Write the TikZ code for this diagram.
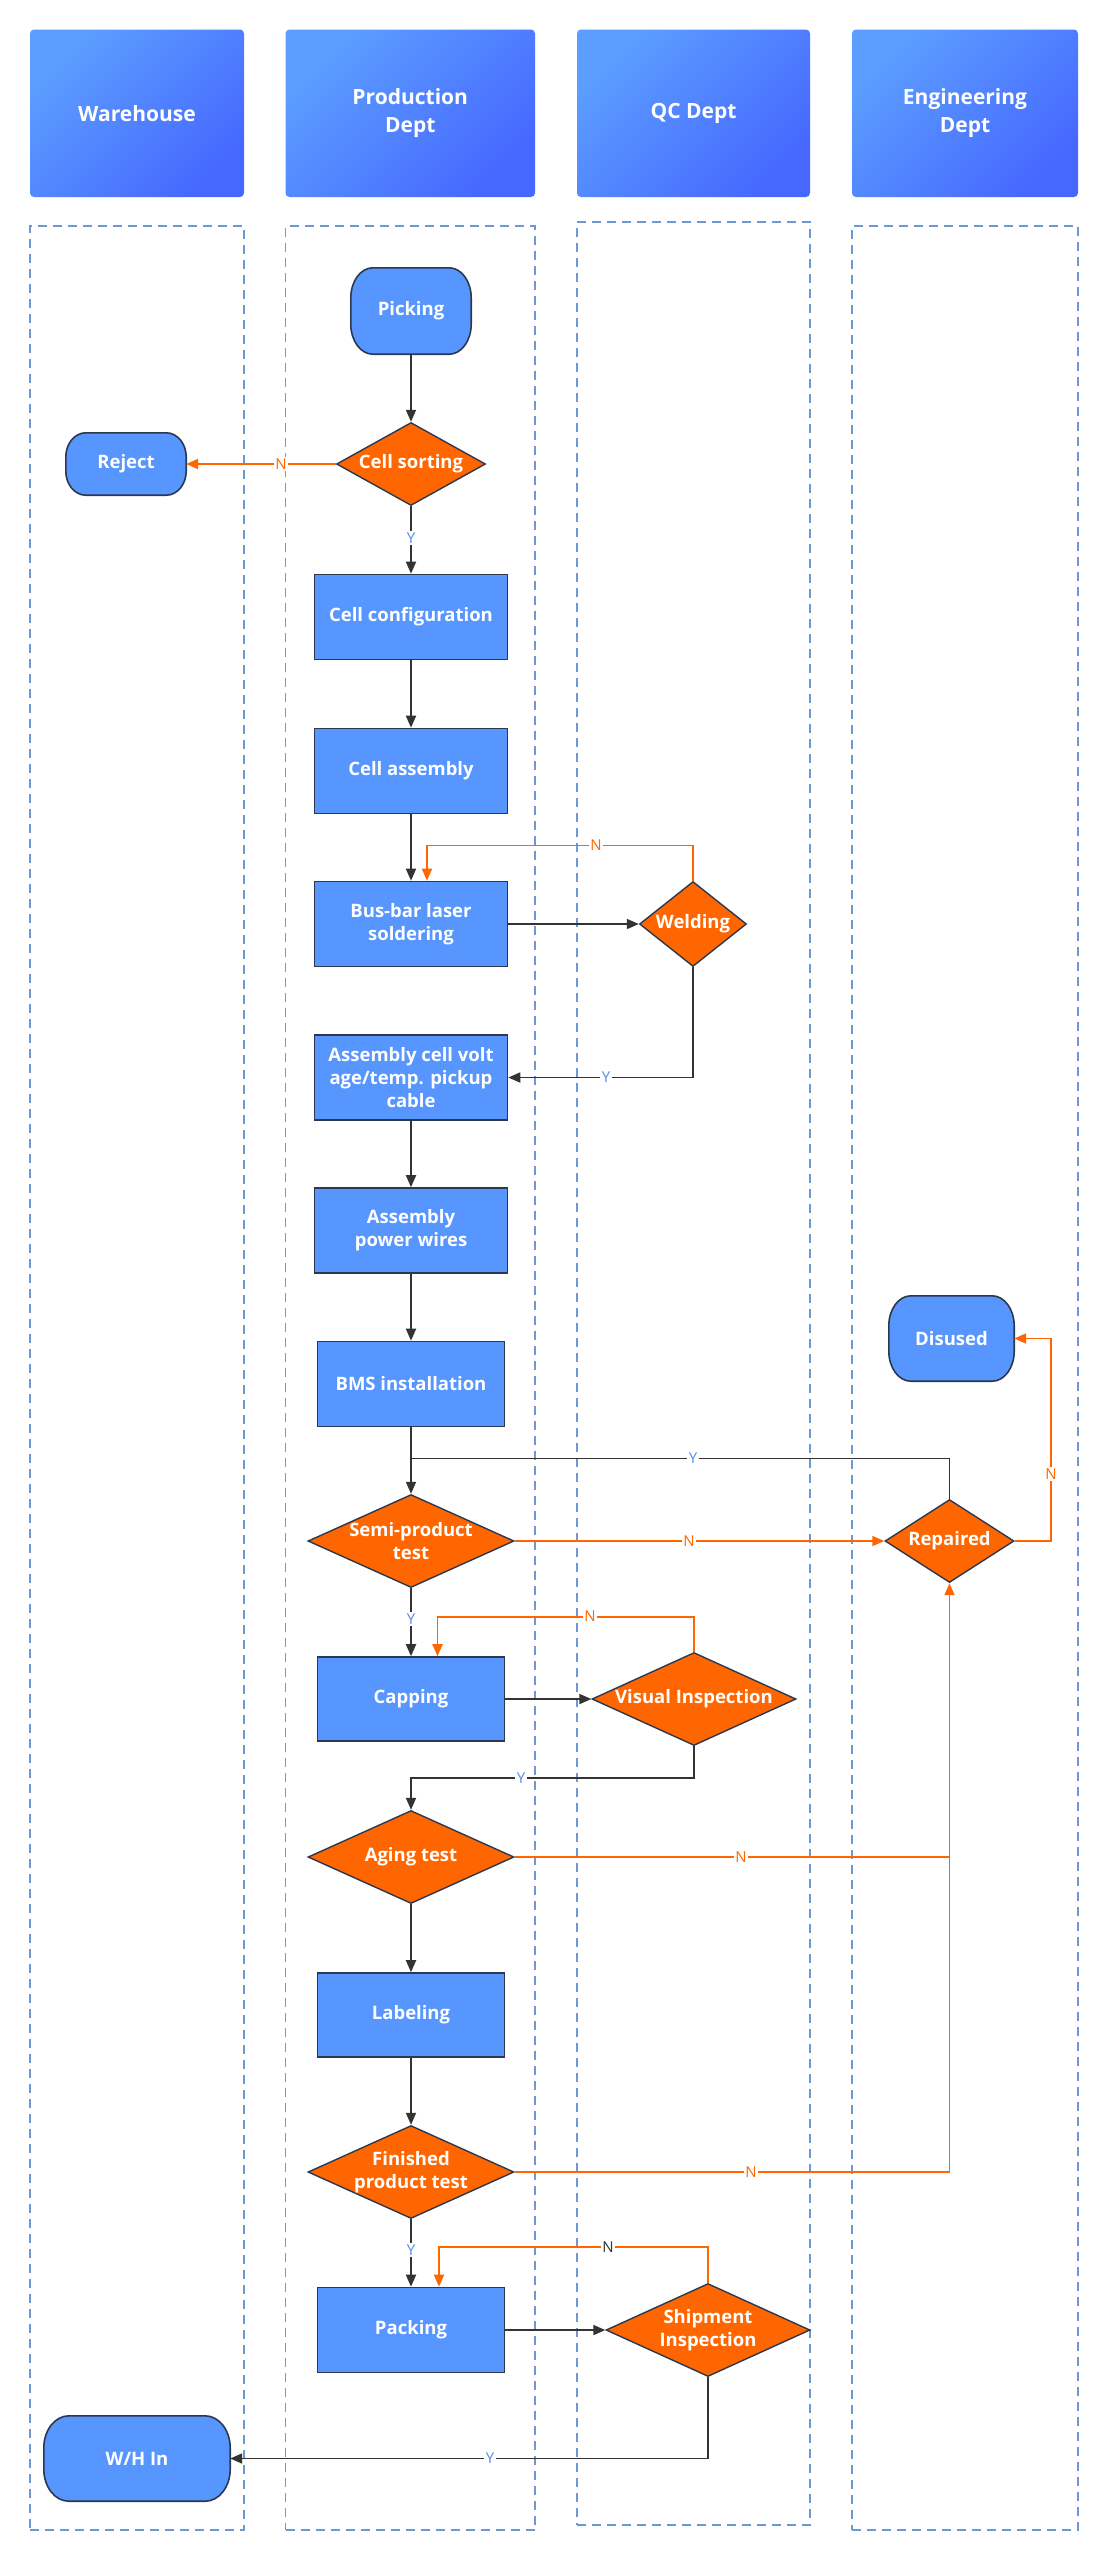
\documentclass[tikz,border=0pt]{standalone}
\usepackage{fontspec}
\setmainfont{Open Sans}
\usetikzlibrary{shapes.geometric,arrows.meta}
\definecolor{nodeblue}{RGB}{87,150,255}
\definecolor{orng}{RGB}{255,102,0}
\definecolor{edgec}{RGB}{51,51,51}
\definecolor{borderc}{RGB}{44,56,80}
\definecolor{lanec}{RGB}{108,152,214}
\definecolor{hdrA}{RGB}{92,158,255}
\definecolor{hdrB}{RGB}{70,104,255}
\definecolor{ylab}{RGB}{88,140,228}
\newcommand{\myNodeFont}{\fontsize{18.5}{23}\selectfont\bfseries}
\newcommand{\myHdrFont}{\fontsize{21}{28}\selectfont\bfseries}
\newcommand{\myLblFont}{\fontsize{15}{18}\selectfont}
% terminal shape with elliptical corners around a named node
\newcommand{\myTerm}[3]{%
  \path[draw=borderc, fill=nodeblue, line width=1.6pt]
    ([xshift=#2pt]#1.north west) -- ([xshift=-#2pt]#1.north east)
    arc[start angle=90, end angle=0, x radius=#2pt, y radius=#3pt]
    -- ([yshift=#3pt]#1.south east)
    arc[start angle=0, end angle=-90, x radius=#2pt, y radius=#3pt]
    -- ([xshift=#2pt]#1.south west)
    arc[start angle=-90, end angle=-180, x radius=#2pt, y radius=#3pt]
    -- ([yshift=-#3pt]#1.north west)
    arc[start angle=180, end angle=90, x radius=#2pt, y radius=#3pt] -- cycle;}
\tikzset{
  hdr/.style={rectangle, rounded corners=4pt, top color=hdrA, bottom color=hdrB, shading angle=45,
    text=white, font=\myHdrFont, align=center, inner sep=0pt, minimum height=167.5pt},
  lanebox/.style={rectangle, draw=lanec, line width=1.5pt, dash pattern=on 9pt off 6pt, inner sep=0pt},
  proc/.style={rectangle, draw=borderc, line width=1.6pt, fill=nodeblue, text=white, font=\myNodeFont,
    align=center, inner sep=0pt, minimum width=193pt, minimum height=85pt},
  procs/.style={proc, minimum width=187pt},
  termbox/.style={rectangle, inner sep=0pt},
  dia/.style={diamond, draw=borderc, line width=1.4pt, fill=orng, inner sep=0pt},
  dtxt/.style={text=white, font=\myNodeFont, align=center, inner sep=0pt},
  tip/.style={-{Triangle[length=12pt,width=10pt]}},
  flow/.style={draw=edgec, line width=1.8pt, tip},
  fline/.style={draw=edgec, line width=1.8pt},
  nflow/.style={draw=orng, line width=1.8pt, tip},
  nline/.style={draw=orng, line width=1.8pt},
  ylbl/.style={fill=white, text=ylab, font=\myLblFont, inner sep=1.5pt},
  nlbl/.style={fill=white, text=orng, font=\myLblFont, inner sep=1.5pt},
  dlbl/.style={fill=white, text=edgec, font=\myLblFont, inner sep=1.5pt},
}
\begin{document}
\begin{tikzpicture}[x=1pt,y=-1pt]
\useasboundingbox (0,0) rectangle (1108,2560);
\fill[white] (0,0) rectangle (1108,2560);
% headers
\node[hdr, minimum width=214pt] (hW) at (137,113.25) {Warehouse};
\node[hdr, minimum width=249.5pt] (hP) at (410.25,113.25) {Production\\Dept};
\node[hdr, minimum width=233pt] (hQ) at (693.5,113.25) {QC Dept};
\node[hdr, minimum width=226pt] (hE) at (965,113.25) {Engineering\\Dept};
% lanes
\node[lanebox, minimum width=214pt, minimum height=2304pt] (lW) at (137,1378) {};
\node[lanebox, minimum width=249.5pt, minimum height=2304pt] (lP) at (410.25,1378) {};
\node[lanebox, minimum width=233pt, minimum height=2303pt] (lQ) at (693.5,1373.5) {};
\node[lanebox, minimum width=226pt, minimum height=2304pt] (lE) at (965,1378) {};
% terminals
\node[termbox, minimum width=120pt, minimum height=86pt] (pick) at (411,311) {};
\myTerm{pick}{22}{30}
\node[dtxt] (pickT) at (pick) {Picking};
\node[termbox, minimum width=120pt, minimum height=62pt] (rej) at (126,464) {};
\myTerm{rej}{20}{24}
\node[dtxt] (rejT) at (rej) {Reject};
\node[termbox, minimum width=125pt, minimum height=85pt] (dis) at (951.5,1338.5) {};
\myTerm{dis}{22}{30}
\node[dtxt] (disT) at (dis) {Disused};
\node[termbox, minimum width=186pt, minimum height=85pt] (whin) at (137,2458.5) {};
\myTerm{whin}{25}{32}
\node[dtxt] (whinT) at (whin) {W/H In};
% process and decision nodes
\node[dia, minimum width=149pt, minimum height=83pt] (cs) at (411,464) {};
\node[dtxt] (csT) at (cs) {Cell sorting};
\node[proc] (cc) at (411,617) {Cell configuration};
\node[proc] (ca) at (411,771) {Cell assembly};
\node[proc] (bb) at (411,924) {Bus-bar laser\\soldering};
\node[dia, minimum width=107pt, minimum height=85pt] (weld) at (693,924) {};
\node[dtxt] (weldT) at (weld) {Welding};
\node[proc] (acv) at (411,1077.5) {Assembly cell volt\\age/temp. pickup\\cable};
\node[proc] (apw) at (411,1230.5) {Assembly\\power wires};
\node[procs] (bms) at (411,1384) {BMS installation};
\node[dia, minimum width=206pt, minimum height=93pt] (semi) at (411,1541) {};
\node[dtxt] (semiT) at (semi) {Semi-product\\test};
\node[dia, minimum width=129pt, minimum height=83pt] (rep) at (949.5,1541) {};
\node[dtxt] (repT) at (rep) {Repaired};
\node[procs, minimum height=84pt] (cap) at (411,1699) {Capping};
\node[dia, minimum width=204pt, minimum height=93pt] (vi) at (694,1699) {};
\node[dtxt] (viT) at (vi) {Visual Inspection};
\node[dia, minimum width=206pt, minimum height=93pt] (aging) at (411,1857) {};
\node[dtxt] (agingT) at (aging) {Aging test};
\node[procs, minimum height=84pt] (lab) at (411,2015) {Labeling};
\node[dia, minimum width=206pt, minimum height=93pt] (fin) at (411,2172) {};
\node[dtxt] (finT) at (fin) {Finished\\product test};
\node[procs] (pack) at (411,2330) {Packing};
\node[dia, minimum width=204pt, minimum height=93pt] (si) at (708,2330) {};
\node[dtxt] (siT) at (si) {Shipment\\Inspection};
% helper coordinates
\coordinate (wl) at (427,845.5);
\coordinate (ry) at (411,1458.5);
\coordinate (rn) at (1051,1541);
\coordinate (vl) at (437.5,1616.6);
\coordinate (vy) at (411,1778);
\coordinate (sl) at (439,2247);
% connectors
\draw[flow] (pick.south) -- (cs.north);
\draw[nflow] (cs.west) -- (rej.east);
\draw[flow] (cs.south) -- (cc.north);
\draw[flow] (cc) -- (ca);
\draw[flow] (ca) -- (bb);
\draw[flow] (bb.east) -- (weld.west);
\draw[nflow] (weld.north) |- (wl) -- (wl |- bb.north);
\draw[flow] (weld.south) |- (acv.east);
\draw[flow] (acv) -- (apw);
\draw[flow] (apw) -- (bms);
\draw[flow] (bms.south) -- (semi.north);
\draw[fline] (rep.north) |- (ry);
\draw[nflow] (semi.east) -- (rep.west);
\draw[nflow] (rep.east) -- (rn) |- (dis.east);
\draw[flow] (semi.south) -- (cap.north);
\draw[flow] (cap.east) -- (vi.west);
\draw[nflow] (vi.north) |- (vl) -- (vl |- cap.north);
\draw[flow] (vi.south) |- (vy) -- (aging.north);
\draw[nline] (aging.east) -- (aging.east -| rep.south);
\draw[flow] (aging.south) -- (lab.north);
\draw[flow] (lab.south) -- (fin.north);
\draw[nflow] (fin.east) -| (rep.south);
\draw[flow] (fin.south) -- (pack.north);
\draw[flow] (pack.east) -- (si.west);
\draw[nflow] (si.north) |- (sl) -- (sl |- pack.north);
\draw[flow] (si.south) |- (whin.east);
% labels
\node[nlbl] (l1) at (281,464) {N};
\node[ylbl] (l2) at (411,538) {Y};
\node[nlbl] (l3) at (596,845.5) {N};
\node[ylbl] (l4) at (606,1077.5) {Y};
\node[ylbl] (l5) at (693,1458.5) {Y};
\node[nlbl] (l6) at (689,1541) {N};
\node[nlbl] (l7) at (1051,1474) {N};
\node[ylbl] (l8) at (411,1619) {Y};
\node[nlbl] (l9) at (590,1616.6) {N};
\node[ylbl] (l10) at (521,1778) {Y};
\node[nlbl] (l11) at (741,1857) {N};
\node[nlbl] (l12) at (751,2172) {N};
\node[ylbl] (l13) at (411,2250) {Y};
\node[dlbl] (l14) at (608,2247) {N};
\node[ylbl] (l15) at (490,2458.5) {Y};
\end{tikzpicture}
\end{document}
